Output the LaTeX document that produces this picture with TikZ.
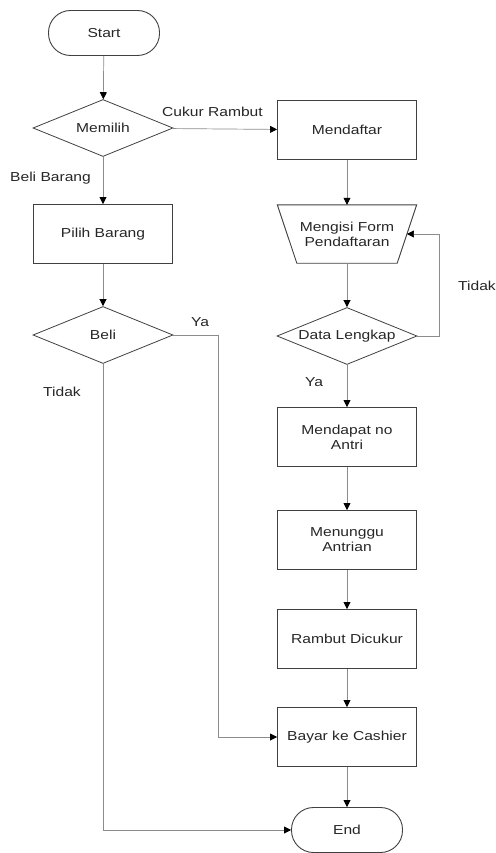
\documentclass[tikz,border=0pt]{standalone}
\usepackage{fontspec}
\setmainfont{Liberation Sans}[FakeStretch=1.2]
\usepackage{tikz}
\usetikzlibrary{arrows.meta,shapes.geometric}
\definecolor{boxline}{gray}{0.25}
\definecolor{flowline}{gray}{0.55}

\begin{document}
\begin{tikzpicture}[x=1pt, y=-1pt]

            \tikzset{
              txt/.style={font=\fontsize{13}{15}\selectfont, text=black!85},
              terminal/.style={txt, draw=boxline, line width=0.9pt, rounded corners=22pt,
                minimum width=111pt, minimum height=45pt, inner sep=0pt},
              process/.style={txt, draw=boxline, line width=0.9pt, align=center,
                minimum width=139pt, minimum height=59pt, inner sep=0pt},
              decision/.style={txt, draw=boxline, line width=0.8pt, diamond, aspect=2.4,
                minimum width=140pt, minimum height=57pt, inner sep=0pt},
              flow/.style={flowline, line width=0.7pt, -{Triangle[length=7pt,width=7pt,black]}},
              lbl/.style={txt, inner sep=0pt}
            }

            \useasboundingbox (0,0) rectangle (495,853);

            \node [terminal] (start) at (104,33) {Start};
            \node [decision] (memilih) at (103,128) {Memilih};
            \node [process] (pilih) at (103,234) {Pilih Barang};
            \node [decision] (beli) at (103,335) {Beli};

            \node [process] (daftar) at (347,130) {Mendaftar};
            \node [txt, align=center, minimum width=139pt, minimum height=58pt, inner sep=0pt]
                  (form) at (347,234) {Mengisi Form\\Pendaftaran};
            \draw [boxline, line width=0.9pt] (form.north west) -- (form.north east)
                  -- ([xshift=-19.5pt]form.south east) -- ([xshift=19.5pt]form.south west) -- cycle;
            \node [decision] (lengkap) at (347,336) {Data Lengkap};
            \node [process] (antri) at (347,437) {Mendapat no\\Antri};
            \node [process] (tunggu) at (347,540) {Menunggu\\Antrian};
            \node [process] (cukur) at (347,639) {Rambut Dicukur};
            \node [process] (bayar) at (347,737) {Bayar ke Cashier};
            \node [terminal] (end) at (347,830) {End};

            \coordinate (formside) at ([xshift=-9.75pt]form.east);
            \coordinate (tidakturn) at (439,234);
            \coordinate (yaturn) at (218,737);

            \draw [flow] (start) -- (memilih);
            \draw [flow] (memilih) -- (daftar);
            \draw [flow] (memilih) -- (pilih);
            \draw [flow] (pilih) -- (beli);
            \draw [flow] (daftar) -- (form);
            \draw [flow] (form.south) -- (lengkap);
            \draw [flow] (lengkap.east) -| (tidakturn) -- (formside);
            \draw [flow] (lengkap) -- (antri);
            \draw [flow] (antri) -- (tunggu);
            \draw [flow] (tunggu) -- (cukur);
            \draw [flow] (cukur) -- (bayar);
            \draw [flow] (bayar) -- (end);
            \draw [flow] (beli.east) -| (yaturn) -- (bayar.west);
            \draw [flow] (beli.south) |- (end.west);

            \node [lbl, anchor=west] (lcukur) at (162,112) {Cukur Rambut};
            \node [lbl, anchor=west] (lbarang) at (10,178) {Beli Barang};
            \node [lbl, anchor=west] (lyabeli) at (191,322) {Ya};
            \node [lbl, anchor=west] (ltidakbeli) at (43,392) {Tidak};
            \node [lbl, anchor=west] (ltidak) at (458,286) {Tidak};
            \node [lbl, anchor=west] (lya) at (305,382) {Ya};

        \end{tikzpicture}
\end{document}
